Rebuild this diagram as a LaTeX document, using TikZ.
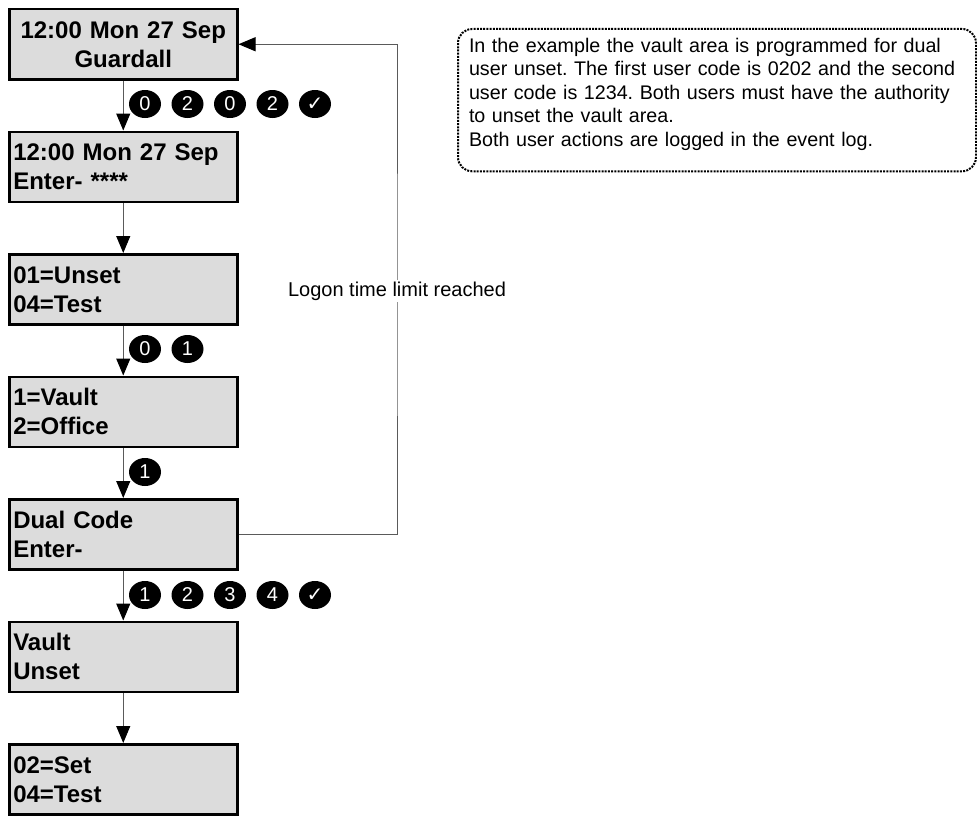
\documentclass[tikz,border=0pt]{standalone}
\usepackage{fontspec}
\setmainfont{Liberation Sans}
\newfontfamily\symf{DejaVu Sans}
\usetikzlibrary{arrows.meta,shapes.geometric}
\definecolor{lcdgray}{RGB}{220,220,220}
\definecolor{linegray}{RGB}{90,90,90}
\tikzset{
  lcd/.style={draw=black, line width=2.5pt, fill=lcdgray, rectangle, anchor=north west,
    minimum width=228pt, minimum height=70pt, text width=220pt, inner xsep=4pt, inner ysep=0pt,
    font=\fontsize{24}{29}\selectfont\bfseries, align=left},
  lcdc/.style={lcd, align=center},
  flow/.style={draw=linegray, line width=1pt, -{Triangle[length=17pt,width=14pt,black]}},
  keydisc/.style={fill=black},
  keytxt/.style={text=white, inner sep=0pt, font=\fontsize{20}{20}\selectfont},
  note/.style={draw=black, line width=2pt, dash pattern=on 2pt off 1.2pt, rounded corners=14pt,
    anchor=north west, text width=496pt, align=left, inner xsep=11pt, inner ysep=9pt,
    font=\fontsize{19.7}{23.5}\selectfont\frenchspacing},
  lbl/.style={fill=white, inner sep=2pt, font=\fontsize{20}{24}\selectfont}
}
\newcommand{\keyat}[4]{%
  \fill[keydisc] (#2,#3) ellipse [x radius=16, y radius=14];
  \node[keytxt] (#1) at (#2,#3) {#4};}
\begin{document}
\begin{tikzpicture}[x=1pt,y=-1pt]
\useasboundingbox (0,0) rectangle (977,816);
% LCD screens
\node[lcdc] (b1) at (8,8) {12:00 Mon 27 Sep\\Guardall};
\node[lcd] (b2) at (8,130.5) {12:00 Mon 27 Sep\\Enter- ****};
\node[lcd] (b3) at (8,253) {01=Unset\\04=Test};
\node[lcd] (b4) at (8,375.5) {1=Vault\\2=Office};
\node[lcd] (b5) at (8,498) {Dual Code\\Enter-};
\node[lcd] (b6) at (8,620.5) {Vault\\Unset};
\node[lcd] (b7) at (8,743) {02=Set\\04=Test};
% flow arrows
\draw[flow] (b1.south) -- (b2.north);
\draw[flow] (b2.south) -- (b3.north);
\draw[flow] (b3.south) -- (b4.north);
\draw[flow] (b4.south) -- (b5.north);
\draw[flow] (b5.south) -- (b6.north);
\draw[flow] (b6.south) -- (b7.north);
% feedback
\coordinate (fb) at (397,300);
\draw[flow] (b5.east) -| (fb) |- (b1.east);
\node[lbl] (lg) at (397,291) {Logon time limit reached};
% keys row 1
\keyat{k11}{145}{104}{0}
\keyat{k12}{187.5}{104}{2}
\keyat{k13}{230}{104}{0}
\keyat{k14}{272.5}{104}{2}
\keyat{k15}{315}{104}{\symf\fontsize{20}{20}\selectfont ✓}
% keys row 2
\keyat{k21}{145}{349}{0}
\keyat{k22}{187.5}{349}{1}
% keys row 3
\keyat{k31}{145}{472}{1}
% keys row 4
\keyat{k41}{145}{595}{1}
\keyat{k42}{187.5}{595}{2}
\keyat{k43}{230}{595}{3}
\keyat{k44}{272.5}{595}{4}
\keyat{k45}{315}{595}{\symf\fontsize{20}{20}\selectfont ✓}
% note
\node[note] (nt) at (457,28) {In the example the vault area is programmed for dual\\user unset. The first user code is 0202 and the second\\user code is 1234. Both users must have the authority\\to unset the vault area.\\Both user actions are logged in the event log.\rule[-16pt]{0pt}{1pt}};
\end{tikzpicture}
\end{document}
